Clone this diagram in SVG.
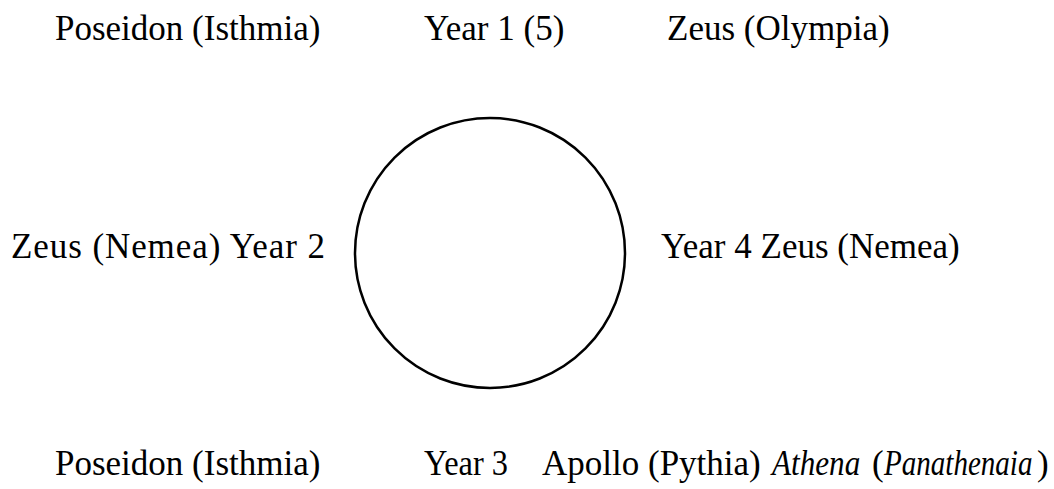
<svg xmlns="http://www.w3.org/2000/svg" width="1054" height="489" viewBox="0 0 1054 489">
<style>
.t{font-family:"Liberation Serif","Times New Roman",serif;font-size:35px;fill:#000}
.i{font-style:italic}
.ring{fill:none;stroke:#000;stroke-width:2.5}
</style>
<rect width="1054" height="489" fill="#fff"/>
<g id="cycle"><circle class="ring" cx="490" cy="253" r="135"/></g>
<g id="connectors"/>
<g id="top-left"><text class="t" x="55" y="40">Poseidon (Isthmia)</text></g>
<g id="year1"><text class="t" x="424" y="40">Year 1 (5)</text></g>
<g id="top-right"><text class="t" x="667" y="40">Zeus (Olympia)</text></g>
<g id="year2"><text class="t" x="11" y="258" textLength="314" lengthAdjust="spacing">Zeus (Nemea) Year 2</text></g>
<g id="year4"><text class="t" x="661" y="258">Year 4 Zeus (Nemea)</text></g>
<g id="bottom-left"><text class="t" x="55" y="475">Poseidon (Isthmia)</text></g>
<g id="year3"><text class="t" x="424" y="475" textLength="84" lengthAdjust="spacingAndGlyphs">Year 3</text></g>
<g id="bottom-right">
<text class="t" x="542" y="475">Apollo (Pythia)</text>
<text class="t i" transform="translate(772 475) scale(0.89 1)">Athena</text>
<text class="t" x="872" y="475">(</text>
<text class="t i" transform="translate(884 475) scale(0.83 1)">Panathenaia</text>
<text class="t" x="1037" y="475">)</text>
</g>
</svg>
